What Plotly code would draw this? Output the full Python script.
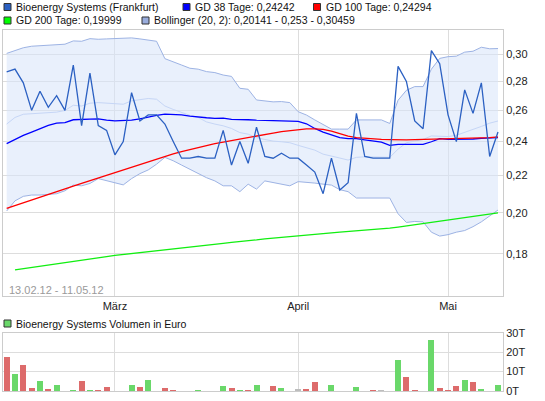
import math
import plotly.graph_objects as go

# ---------------- data ----------------
days = list(range(60))  # trading-day index, 13.02.12 ... 11.05.12
month_ticks = [13, 35, 53]
month_labels = ["März", "April", "Mai"]

price = [0.287, 0.289, 0.279, 0.260, 0.273, 0.262, 0.270, 0.260, 0.292, 0.250,
         0.286, 0.250, 0.247, 0.232, 0.240, 0.272, 0.253, 0.257, 0.257, 0.251,
         0.240, 0.230, 0.230, 0.231, 0.230, 0.230, 0.247, 0.226, 0.240, 0.227,
         0.249, 0.231, 0.230, 0.233, 0.230, 0.230, 0.226, 0.222, 0.210, 0.230,
         0.212, 0.216, 0.258, 0.231, 0.230, 0.230, 0.230, 0.291, 0.280, 0.253,
         0.248, 0.303, 0.293, 0.257, 0.240, 0.274, 0.258, 0.279, 0.231, 0.246]
prev_close = 0.295

gd38 = [0.2387, 0.2414, 0.2438, 0.2459, 0.2480, 0.2501, 0.2516, 0.2520, 0.2538, 0.2538,
        0.2542, 0.2544, 0.2535, 0.2531, 0.2531, 0.2535, 0.2544, 0.2557, 0.2566, 0.2575,
        0.2575, 0.2570, 0.2562, 0.2555, 0.2551, 0.2547, 0.2549, 0.2540, 0.2540, 0.2538,
        0.2535, 0.2533, 0.2531, 0.2529, 0.2529, 0.2527, 0.2512, 0.2482, 0.2459, 0.2440,
        0.2424, 0.2418, 0.2418, 0.2410, 0.2404, 0.2396, 0.2377, 0.2383, 0.2383, 0.2383,
        0.2383, 0.2399, 0.2418, 0.2414, 0.2414, 0.2414, 0.2416, 0.2420, 0.2420, 0.24242]

gd100 = [0.2022, 0.2037, 0.2052, 0.2067, 0.2082, 0.2097, 0.2112, 0.2127, 0.2141, 0.2156,
         0.2171, 0.2185, 0.2201, 0.2216, 0.2233, 0.2249, 0.2265, 0.2281, 0.2296, 0.2311,
         0.2325, 0.2339, 0.2352, 0.2364, 0.2376, 0.2387, 0.2397, 0.2407, 0.2417, 0.2427,
         0.2436, 0.2445, 0.2453, 0.2462, 0.2469, 0.2476, 0.2479, 0.2480, 0.2476, 0.2465,
         0.2449, 0.2434, 0.2425, 0.2420, 0.2416, 0.2413, 0.2412, 0.2410, 0.2411, 0.2412,
         0.2413, 0.2413, 0.2413, 0.2415, 0.2417, 0.2419, 0.2421, 0.2422, 0.2424, 0.24294]

gd200 = [None, 0.1728, 0.1733, 0.1738, 0.1744, 0.1749, 0.1755, 0.1760, 0.1765, 0.1771,
         0.1776, 0.1782, 0.1787, 0.1793, 0.1797, 0.1801, 0.1805, 0.1810, 0.1814, 0.1819,
         0.1823, 0.1827, 0.1832, 0.1836, 0.1840, 0.1845, 0.1849, 0.1854, 0.1857, 0.1862,
         0.1866, 0.1871, 0.1875, 0.1879, 0.1883, 0.1886, 0.1890, 0.1893, 0.1896, 0.1900,
         0.1903, 0.1906, 0.1909, 0.1913, 0.1916, 0.1919, 0.1923, 0.1928, 0.1934, 0.1940,
         0.1945, 0.1951, 0.1957, 0.1963, 0.1968, 0.1974, 0.1980, 0.1986, 0.1992, 0.19999]

boll_upper = [0.3008, 0.3033, 0.3052, 0.3064, 0.3067, 0.3072, 0.3077, 0.3080, 0.3106, 0.3103,
              0.3124, 0.3119, 0.3122, 0.3124, 0.3130, 0.3130, 0.3122, 0.3111, 0.3103, 0.2968,
              0.2946, 0.2920, 0.2896, 0.2889, 0.2871, 0.2864, 0.2846, 0.2836, 0.2751, 0.2744,
              0.2670, 0.2663, 0.2657, 0.2659, 0.2652, 0.2591, 0.2569, 0.2537, 0.2510, 0.2478,
              0.2478, 0.2478, 0.2537, 0.2537, 0.2537, 0.2537, 0.2514, 0.2668, 0.2737, 0.2763,
              0.2763, 0.2889, 0.2970, 0.2983, 0.2987, 0.3018, 0.3025, 0.3056, 0.3044, 0.30459]

boll_mid = [0.2510, 0.2553, 0.2574, 0.2578, 0.2580, 0.2585, 0.2588, 0.2599, 0.2634, 0.2629,
            0.2648, 0.2652, 0.2648, 0.2641, 0.2641, 0.2664, 0.2670, 0.2680, 0.2675, 0.2629,
            0.2606, 0.2585, 0.2567, 0.2553, 0.2524, 0.2510, 0.2499, 0.2482, 0.2456, 0.2446,
            0.2424, 0.2413, 0.2403, 0.2399, 0.2393, 0.2377, 0.2364, 0.2348, 0.2324, 0.2314,
            0.2301, 0.2289, 0.2305, 0.2308, 0.2308, 0.2308, 0.2305, 0.2354, 0.2393, 0.2403,
            0.2413, 0.2435, 0.2431, 0.2431, 0.2439, 0.2456, 0.2478, 0.2495, 0.2516, 0.2530]

boll_lower = [0.2009, 0.2062, 0.2086, 0.2093, 0.2093, 0.2095, 0.2100, 0.2116, 0.2147, 0.2143,
              0.2156, 0.2183, 0.2170, 0.2158, 0.2148, 0.2183, 0.2211, 0.2232, 0.2265, 0.2305,
              0.2285, 0.2260, 0.2236, 0.2212, 0.2188, 0.2170, 0.2143, 0.2143, 0.2111, 0.2152,
              0.2125, 0.2170, 0.2161, 0.2152, 0.2143, 0.2166, 0.2163, 0.2158, 0.2152, 0.2147,
              0.2122, 0.2111, 0.2077, 0.2077, 0.2077, 0.2077, 0.2077, 0.1995, 0.1951, 0.1956,
              0.1954, 0.1903, 0.1884, 0.1891, 0.1903, 0.1911, 0.1930, 0.1954, 0.1983, 0.20141]

volume_t = [17.5, 8.9, 13.4, 1.5, 5.1, 1.0, 3.1, 0.0, 0.5, 5.1,
            0.5, 0.5, 2.1, 0.0, 0.2, 3.1, 2.1, 5.7, 0.0, 1.5,
            0.5, 0.0, 0.0, 0.5, 0.0, 0.0, 2.6, 1.5, 0.5, 0.5,
            3.1, 0.2, 2.6, 1.5, 0.2, 1.0, 1.0, 4.6, 0.0, 3.1,
            0.2, 0.0, 2.1, 0.2, 0.5, 0.5, 0.0, 15.9, 7.2, 0.5,
            0.0, 26.2, 1.5, 0.5, 2.6, 5.7, 4.8, 1.0, 0.0, 3.1]

price_ticks = [0.18, 0.20, 0.22, 0.24, 0.26, 0.28, 0.30]
price_tick_labels = ["0,18", "0,20", "0,22", "0,24", "0,26", "0,28", "0,30"]
vol_ticks = [0, 10, 20, 30]
vol_tick_labels = ["0T", "10T", "20T", "30T"]

legend_row1 = ["Bioenergy Systems (Frankfurt)", "GD 38 Tage: 0,24242", "GD 100 Tage: 0,24294"]
legend_row2 = ["GD 200 Tage: 0,19999", "Bollinger (20, 2): 0,20141 - 0,253 - 0,30459"]
vol_legend = "Bioenergy Systems Volumen in Euro"
date_range = "13.02.12 - 11.05.12"

# ---------------- styles ----------------
C_PRICE = "#2b60c2"
C_GD38 = "#0000ff"
C_GD100 = "#ff0000"
C_GD200 = "#11ee11"
C_BAND = "#9db3e4"
C_MID = "#c6d6f6"
C_FILL = "rgba(215,228,250,0.55)"
C_UP = "#6ad86a"
C_DN = "#dd6b6b"
C_EQ = "#bdbdbd"
GRID = "#dddddd"
FONT = "Liberation Sans, Arial, sans-serif"

W, H = 545, 401
ML, MR, MT, MB = 3, 42, 30, 10
PW, PH = W - ML - MR, H - MT - MB


def px_x(x):
    return (x - ML) / PW


def px_y(y):
    return (H - MB - y) / PH


# bar colours from price direction
bar_colors = []
for i, p in enumerate(price):
    prev = prev_close if i == 0 else price[i - 1]
    if p > prev:
        bar_colors.append(C_UP)
    elif p < prev:
        bar_colors.append(C_DN)
    else:
        bar_colors.append(C_EQ)

fig = go.Figure()

# Bollinger band
fig.add_trace(go.Scatter(x=days, y=boll_lower, mode="lines",
                         line=dict(color=C_BAND, width=1), xaxis="x", yaxis="y"))
fig.add_trace(go.Scatter(x=days, y=boll_upper, mode="lines", fill="tonexty",
                         fillcolor=C_FILL, line=dict(color=C_BAND, width=1),
                         xaxis="x", yaxis="y"))
fig.add_trace(go.Scatter(x=days, y=boll_mid, mode="lines",
                         line=dict(color=C_MID, width=1), xaxis="x", yaxis="y"))
fig.add_trace(go.Scatter(x=days, y=gd200, mode="lines",
                         line=dict(color=C_GD200, width=1.3), xaxis="x", yaxis="y"))
fig.add_trace(go.Scatter(x=days, y=gd38, mode="lines",
                         line=dict(color=C_GD38, width=1.3), xaxis="x", yaxis="y"))
fig.add_trace(go.Scatter(x=days, y=gd100, mode="lines",
                         line=dict(color=C_GD100, width=1.3), xaxis="x", yaxis="y"))
fig.add_trace(go.Scatter(x=days, y=price, mode="lines",
                         line=dict(color=C_PRICE, width=1.3), xaxis="x", yaxis="y"))

# volume
fig.add_trace(go.Bar(x=days, y=volume_t, marker=dict(color=bar_colors, line=dict(width=0)),
                     width=0.72, xaxis="x2", yaxis="y2"))

axis_common = dict(showgrid=True, gridcolor=GRID, gridwidth=1, showline=True,
                   linecolor="#cccccc", linewidth=1, mirror=True, ticks="",
                   zeroline=False, tickfont=dict(family=FONT, size=11, color="#222"))

y_lo, y_hi = 0.1616, 0.3194
vol_top_px = 332.7
main_bottom_px = 296

fig.update_layout(
    width=W, height=H,
    margin=dict(l=ML, r=MR, t=MT, b=MB),
    paper_bgcolor="white", plot_bgcolor="white",
    showlegend=False, bargap=0,
    font=dict(family=FONT, size=11, color="#222"),
    xaxis=dict(domain=[0, 1], range=[-0.44, 59.6], tickvals=month_ticks,
               ticktext=month_labels, anchor="y", **axis_common),
    yaxis=dict(domain=[px_y(main_bottom_px), 1], type="log",
               range=[math.log10(y_lo), math.log10(y_hi)],
               tickvals=price_ticks, ticktext=price_tick_labels,
               side="right", anchor="x", **axis_common),
    xaxis2=dict(domain=[0, 1], range=[-0.44, 59.6], tickvals=month_ticks,
                showticklabels=False, anchor="y2", **axis_common),
    yaxis2=dict(domain=[0, px_y(vol_top_px)], range=[0, 30], tickvals=vol_ticks,
                ticktext=vol_tick_labels, side="right", anchor="x2", **axis_common),
)

# legend (drawn as annotations + shapes)
LEG_FONT = dict(family=FONT, size=10.5, color="#111")
legend_items = [
    (4, 7, C_PRICE, legend_row1[0]),
    (183, 7, C_GD38, legend_row1[1]),
    (313.5, 7, C_GD100, legend_row1[2]),
    (4, 20.5, "#00ff00", legend_row2[0]),
    (142, 20.5, "#99acdc", legend_row2[1]),
    (4, 323.5, C_UP, vol_legend),
]
shapes = []
annotations = []
for sx, cy, col, txt in legend_items:
    shapes.append(dict(type="rect", xref="paper", yref="paper",
                       x0=px_x(sx), x1=px_x(sx + 7), y0=px_y(cy + 3.5), y1=px_y(cy - 3.5),
                       fillcolor=col, line=dict(color="#333333", width=1)))
    annotations.append(dict(xref="paper", yref="paper", x=px_x(sx + 10), y=px_y(cy),
                            xanchor="left", yanchor="middle", showarrow=False,
                            text=txt, font=LEG_FONT))

annotations.append(dict(xref="paper", yref="paper", x=px_x(7), y=px_y(290),
                        xanchor="left", yanchor="middle", showarrow=False,
                        text=date_range, font=dict(family=FONT, size=11, color="#9a9a9a")))

fig.update_layout(shapes=shapes, annotations=annotations)

fig.write_html("out.html",
               config={"displayModeBar": False, "staticPlot": True},
               post_script="document.body.style.margin='0';document.body.style.padding='0';")
